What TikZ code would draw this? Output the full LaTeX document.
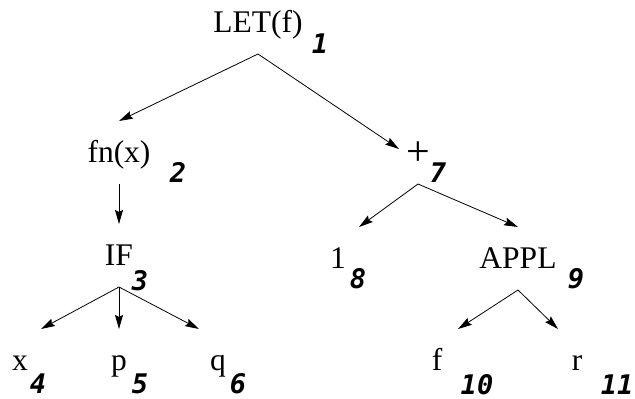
\documentclass[tikz,border=0pt]{standalone}
\usepackage{fontspec}
\setmainfont{Liberation Serif}
\newfontfamily\idxfont{DejaVu Sans Mono Bold Oblique}
\usetikzlibrary{arrows.meta}

\tikzset{
  term/.style={anchor=base, font=\fontsize{31.5}{36}\selectfont, inner sep=0pt,
    outer sep=19pt, text height=22pt, text depth=3pt},
  idx/.style={anchor=base, font=\fontsize{27}{30}\idxfont, inner sep=0pt},
  childarrow/.style={-{Stealth[length=14pt,width=8pt,inset=2pt]}, line width=0.8pt},
}

\begin{document}
\begin{tikzpicture}[x=1pt, y=-1pt]
        \useasboundingbox (0,0) rectangle (635,399);

        % Terms of the expression tree
        \node[term] (let) at (258,32) {LET(f)};
        \node[term] (fn) at (119,162) {fn(x)};
        \node[term] (if) at (119,265) {IF};
        \node[term] (xvar) at (20,370) {x};
        \node[term] (pvar) at (119,370) {p};
        \node[term] (qvar) at (218,370) {q};
        \node[term, font=\fontsize{42}{46}\selectfont, text depth=0pt] (plus) at (418,165) {+};
        \node[term] (one) at (338,268) {1};
        \node[term] (appl) at (518,268) {APPL};
        \node[term] (fvar) at (437,370) {f};
        \node[term] (rvar) at (577,370) {r};

        % Numbering of the terms
        \node[idx] (n1) at (320,53) {1};
        \node[idx] (n2) at (178,182) {2};
        \node[idx] (n3) at (140,290) {3};
        \node[idx] (n4) at (38,393) {4};
        \node[idx] (n5) at (140,393) {5};
        \node[idx] (n6) at (238,393) {6};
        \node[idx] (n7) at (438,182) {7};
        \node[idx] (n8) at (358,288) {8};
        \node[idx] (n9) at (576,288) {9};
        \node[idx] (n10) at (477,394) {10};
        \node[idx] (n11) at (617,394) {11};

        % Arrows from each term to its subterms
        \draw[childarrow] (let.south) -- (fn.north);
        \draw[childarrow] (let.south) -- ([xshift=-19pt,yshift=-25pt]plus.north);
        \draw[childarrow] (fn.south) -- (if.north);
        \draw[childarrow] (if.south) -- ([xshift=21pt]xvar.north);
        \draw[childarrow] (if.south) -- (pvar.north);
        \draw[childarrow] (if.south) -- ([xshift=-19pt]qvar.north);
        \draw[childarrow] (plus.south) -- ([xshift=21pt]one.north);
        \draw[childarrow] (plus.south) -- (appl.north);
        \draw[childarrow] (appl.south) -- ([xshift=21pt]fvar.north);
        \draw[childarrow] (appl.south) -- ([xshift=-19pt]rvar.north);
    \end{tikzpicture}
\end{document}
